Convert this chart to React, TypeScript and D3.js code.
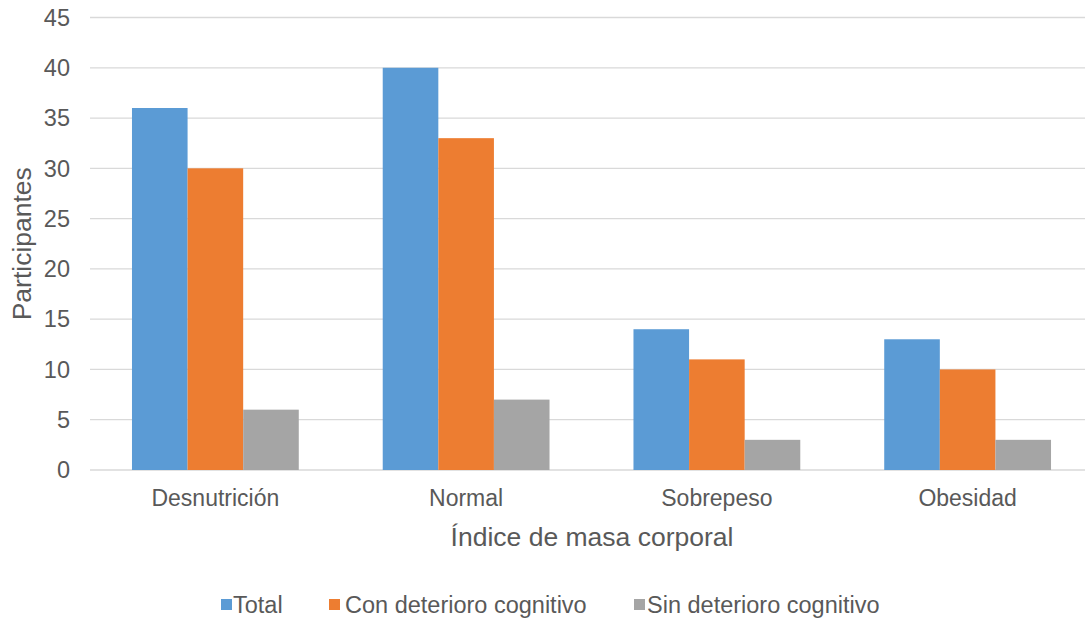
import React from "react";
import * as d3 from "d3";

const categories = ["Desnutrición", "Normal", "Sobrepeso", "Obesidad"];
const seriesNames = ["Total", "Con deterioro cognitivo", "Sin deterioro cognitivo"];
const totalValues = [36, 40, 14, 13];
const conDeterioroValues = [30, 33, 11, 10];
const sinDeterioroValues = [6, 7, 3, 3];
const yTicks = [0, 5, 10, 15, 20, 25, 30, 35, 40, 45];
const colors = ["#5B9BD5", "#ED7D31", "#A5A5A5"];

const W = 1085;
const H = 620;
const plotLeft = 90;
const plotRight = 1093;
const plotTop = 17.5;
const plotBottom = 470;
const font = "'Liberation Sans', Arial, sans-serif";
const textColor = "#595959";

export default function App() {
  const series = [totalValues, conDeterioroValues, sinDeterioroValues];
  const x = d3.scaleBand<string>().domain(categories).range([plotLeft, plotRight]).paddingInner(0).paddingOuter(0);
  const inner = d3
    .scaleBand<number>()
    .domain([0, 1, 2])
    .range([0, x.bandwidth()])
    .paddingInner(0)
    .paddingOuter(0.755);
  const y = d3.scaleLinear().domain([0, 45]).range([plotBottom, plotTop]);

  const legendItems = [
    { sq: 221, tx: 233 },
    { sq: 329, tx: 345 },
    { sq: 634, tx: 647 },
  ];

  return (
    <svg width={W} height={H} style={{ display: "block", position: "absolute", left: 0, top: 0 }}>
      <rect width={W} height={H} fill="#ffffff" />
      {yTicks.map((t) => (
        <g key={t}>
          <line x1={plotLeft} x2={plotRight} y1={y(t)} y2={y(t)} stroke="#D9D9D9" strokeWidth={1.3} />
          <text x={70} y={y(t)} dy="0.35em" textAnchor="end" fontFamily={font} fontSize={23.5} fill={textColor}>
            {t}
          </text>
        </g>
      ))}
      {categories.map((c, ci) => (
        <g key={c}>
          {series.map((vals, si) => (
            <rect
              key={si}
              x={(x(c) as number) + (inner(si) as number)}
              y={y(vals[ci])}
              width={inner.bandwidth()}
              height={plotBottom - y(vals[ci])}
              fill={colors[si]}
            />
          ))}
          <text
            x={(x(c) as number) + x.bandwidth() / 2}
            y={506}
            textAnchor="middle"
            fontFamily={font}
            fontSize={23}
            fill={textColor}
          >
            {c}
          </text>
        </g>
      ))}
      <text x={592} y={546} textAnchor="middle" fontFamily={font} fontSize={26.5} fill={textColor}>
        Índice de masa corporal
      </text>
      <text
        transform={`translate(31, ${(plotTop + plotBottom) / 2}) rotate(-90)`}
        textAnchor="middle"
        fontFamily={font}
        fontSize={26.5}
        fill={textColor}
      >
        Participantes
      </text>
      {seriesNames.map((s, i) => (
        <g key={s}>
          <rect x={legendItems[i].sq} y={599} width={11} height={11} fill={colors[i]} />
          <text x={legendItems[i].tx} y={605} dy="0.35em" fontFamily={font} fontSize={23.5} fill={textColor}>
            {s}
          </text>
        </g>
      ))}
    </svg>
  );
}
